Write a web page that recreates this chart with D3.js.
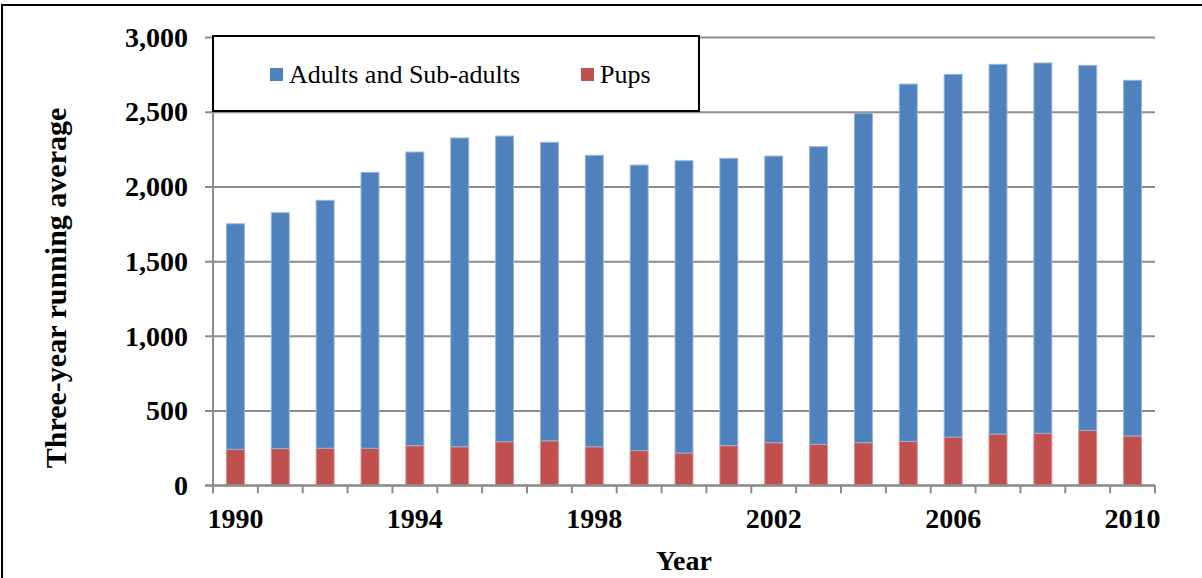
<!DOCTYPE html>
<html>
<head>
<meta charset="utf-8">
<script src="https://cdn.jsdelivr.net/npm/d3@7"></script>
<style>
  html, body { margin: 0; padding: 0; background: #fff; }
  svg { display: block; }
</style>
</head>
<body>
<svg id="chart" width="1202" height="578"></svg>
<script>
// Three-year running averages by year
const years = [1990,1991,1992,1993,1994,1995,1996,1997,1998,1999,2000,
               2001,2002,2003,2004,2005,2006,2007,2008,2009,2010];
const pups = [241,245,248,248,265,258,292,298,258,232,216,
              265,285,274,285,294,323,343,348,368,330];
const adults = [1509,1579,1659,1846,1965,2066,2045,1997,1950,1911,1956,
                1923,1918,1992,2205,2391,2427,2474,2478,2442,2380];
const seriesNames = ["Pups", "Adults and Sub-adults"];
const seriesColors = ["#C0504D", "#4F81BD"];
const yTicks = [0, 500, 1000, 1500, 2000, 2500, 3000];
const xLabelYears = [1990, 1994, 1998, 2002, 2006, 2010];

const svg = d3.select("#chart");
const m = { left: 213, right: 1155, top: 37, bottom: 485.3 };
const serif = "'Liberation Serif', 'Times New Roman', serif";
const gridColor = "#8c8c8c";

// Outer frame
svg.append("rect").attr("x", 2).attr("y", 5).attr("width", 1260).attr("height", 640)
  .attr("fill", "none").attr("stroke", "#000").attr("stroke-width", 2);

const x = d3.scaleBand().domain(years).range([m.left, m.right]).paddingInner(0.6).paddingOuter(0.3);
const y = d3.scaleLinear().domain([0, 3000]).range([m.bottom, m.top]);

// Horizontal gridlines with short ticks on the left
const yAxis = d3.axisLeft(y).tickValues(yTicks)
  .tickSize(-(m.right - m.left)).tickSizeOuter(0).tickPadding(17)
  .tickFormat(d3.format(","));
const gy = svg.append("g").attr("transform", `translate(${m.left},0)`).call(yAxis);
gy.select(".domain").remove();
gy.selectAll(".tick line").attr("stroke", gridColor).attr("stroke-width", 2)
  .attr("x1", -8);
gy.selectAll(".tick text").attr("font-family", serif).attr("font-size", 28)
  .attr("font-weight", "bold").attr("fill", "#000").attr("x", -25).attr("dy", "0.33em");

// Stacked bars
const table = years.map((yr, i) => ({ year: yr, "Pups": pups[i], "Adults and Sub-adults": adults[i] }));
const stacked = d3.stack().keys(seriesNames)(table);
const strokes = ["#d98f8c", "#95b3d7"];
svg.append("g").selectAll("g").data(stacked).join("g")
  .attr("fill", (d, i) => seriesColors[i])
  .attr("stroke", (d, i) => strokes[i])
  .attr("stroke-width", 1)
  .selectAll("rect").data(d => d).join("rect")
  .attr("x", d => x(d.data.year))
  .attr("width", x.bandwidth())
  .attr("y", d => y(d[1]))
  .attr("height", d => y(d[0]) - y(d[1]));

// Y axis line
svg.append("line").attr("x1", m.left).attr("x2", m.left).attr("y1", m.top).attr("y2", m.bottom)
  .attr("stroke", gridColor).attr("stroke-width", 2);

// X axis: ticks on band boundaries, labels every fourth year at band centres
const step = x.step();
const boundaries = d3.range(years.length + 1).map(i => m.left + i * step);
const gx = svg.append("g");
gx.append("line").attr("x1", m.left - 8).attr("x2", m.right).attr("y1", m.bottom).attr("y2", m.bottom)
  .attr("stroke", gridColor).attr("stroke-width", 2);
gx.selectAll("line.tk").data(boundaries).join("line").attr("class", "tk")
  .attr("x1", d => d).attr("x2", d => d).attr("y1", m.bottom).attr("y2", m.bottom + 8)
  .attr("stroke", gridColor).attr("stroke-width", 2);
gx.selectAll("text").data(xLabelYears).join("text")
  .attr("x", d => x(d) + x.bandwidth() / 2).attr("y", 528)
  .attr("text-anchor", "middle").attr("font-family", serif).attr("font-size", 28)
  .attr("font-weight", "bold").text(d => d);

// Axis titles
svg.append("text").attr("x", (m.left + m.right) / 2).attr("y", 570)
  .attr("text-anchor", "middle").attr("font-family", serif).attr("font-size", 28)
  .attr("font-weight", "bold").text("Year");
svg.append("text").attr("transform", "translate(66,288) rotate(-90)")
  .attr("text-anchor", "middle").attr("font-family", serif).attr("font-size", 30)
  .attr("font-weight", "bold").text("Three-year running average");

// Legend
const lg = svg.append("g");
lg.append("rect").attr("x", 213).attr("y", 36).attr("width", 486).attr("height", 75)
  .attr("fill", "#fff").attr("stroke", "#000").attr("stroke-width", 2);
const legendItems = [
  { name: "Adults and Sub-adults", color: seriesColors[1], x: 270 },
  { name: "Pups", color: seriesColors[0], x: 581 }
];
const li = lg.selectAll("g.item").data(legendItems).join("g").attr("class", "item");
li.append("rect").attr("x", d => d.x).attr("y", 68).attr("width", 13).attr("height", 13)
  .attr("fill", d => d.color);
li.append("text").attr("x", d => d.x + 19).attr("y", 83)
  .attr("font-family", serif).attr("font-size", 26).text(d => d.name);
</script>
</body>
</html>
